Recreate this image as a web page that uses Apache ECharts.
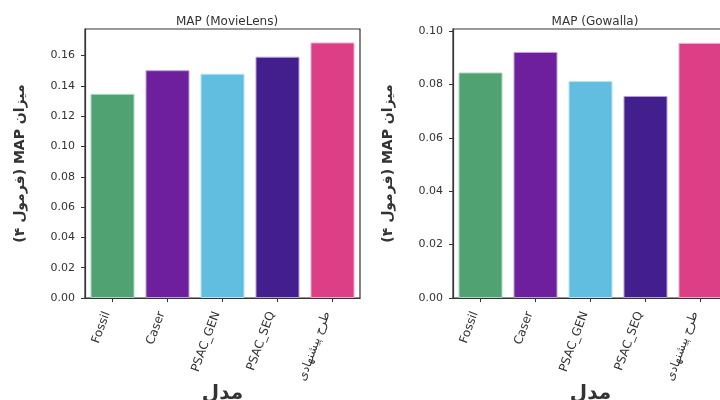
<!DOCTYPE html>
<html>
<head>
<meta charset="utf-8">
<script src="https://cdn.jsdelivr.net/npm/echarts@6/dist/echarts.min.js"></script>
<style>html,body{margin:0;padding:0;background:#fff}#c{width:720px;height:400px}</style>
</head>
<body>
<div id="c"></div>
<script>
const categories = ['Fossil', 'Caser', 'PSAC_GEN', 'PSAC_SEQ', 'طرح پیشنهادی'];
const movielensMap = [0.1347, 0.1503, 0.1480, 0.1592, 0.1686];
const gowallaMap = [0.0845, 0.0922, 0.0813, 0.0757, 0.0956];
const movielensTicks = [0, 0.02, 0.04, 0.06, 0.08, 0.10, 0.12, 0.14, 0.16];
const gowallaTicks = [0, 0.02, 0.04, 0.06, 0.08, 0.10];
const titles = ['MAP (MovieLens)', 'MAP (Gowalla)'];
const yName = '\u202Bمیزان MAP (فرمول ۴)\u202C';
const xName = 'مدل';

const barColors = ['#50a272', '#6d1f9e', '#62bee0', '#421f8c', '#dc3f86'];
const edgeColors = ['#a7d9bb', '#c0a0d8', '#b5e3f3', '#b0a0d6', '#f1a9c9'];
const font = 'DejaVu Sans';
const ink = '#333333';

const chart = echarts.init(document.getElementById('c'), null, {renderer: 'canvas'});

function mkData(vals) {
  return vals.map((v, i) => ({
    value: v,
    itemStyle: {color: barColors[i], borderColor: edgeColors[i], borderWidth: 1}
  }));
}

const grids = [
  {left: 85, top: 29, width: 275, height: 269},
  {left: 453, top: 29, width: 275, height: 269}
];

function yAxis(idx, max, ticks) {
  return {
    type: 'value', gridIndex: idx, min: 0, max: max,
    name: yName, nameLocation: 'middle', nameGap: 58, nameRotate: 90, nameMoveOverlap: false,
    nameTextStyle: {fontFamily: font, fontSize: 14, fontWeight: 'bold', color: ink},
    axisLine: {show: true, lineStyle: {color: ink, width: 1.2}},
    axisTick: {show: true, inside: false, length: 4, lineStyle: {color: ink, width: 1}, customValues: ticks},
    axisLabel: {show: true, margin: 10, fontFamily: font, fontSize: 11, color: ink,
      customValues: ticks, formatter: v => v.toFixed(2)},
    splitLine: {show: false}
  };
}

function xAxis(idx) {
  return {
    type: 'category', gridIndex: idx, data: categories,
    name: xName, nameLocation: 'middle', nameGap: 86, nameMoveOverlap: false,
    nameTextStyle: {fontFamily: font, fontSize: 20, fontWeight: 'bold', color: ink},
    axisLine: {show: true, lineStyle: {color: ink, width: 1.2}},
    axisTick: {show: true, alignWithLabel: true, inside: false, length: 4, lineStyle: {color: ink, width: 1}},
    axisLabel: {rotate: 70, margin: 16, verticalAlign: 'bottom', fontFamily: font, fontSize: 12, color: ink, interval: 0},
    splitLine: {show: false}
  };
}

chart.setOption({
  animation: false,
  backgroundColor: '#ffffff',
  title: [
    {text: titles[0], left: 222, top: 11, textAlign: 'center',
      textStyle: {fontFamily: font, fontSize: 12, fontWeight: 'normal', color: ink}},
    {text: titles[1], left: 590, top: 11, textAlign: 'center',
      textStyle: {fontFamily: font, fontSize: 12, fontWeight: 'normal', color: ink}}
  ],
  grid: grids.map(g => Object.assign({show: true, borderColor: ink, borderWidth: 1.2, backgroundColor: 'transparent',
    containLabel: false, outerBoundsMode: 'none'}, g)),
  xAxis: [xAxis(0), xAxis(1)],
  yAxis: [yAxis(0, 0.1775, movielensTicks), yAxis(1, 0.1008, gowallaTicks)],
  series: [
    {type: 'bar', xAxisIndex: 0, yAxisIndex: 0, data: mkData(movielensMap), barWidth: '80%'},
    {type: 'bar', xAxisIndex: 1, yAxisIndex: 1, data: mkData(gowallaMap), barWidth: '80%'}
  ]
});
</script>
</body>
</html>
